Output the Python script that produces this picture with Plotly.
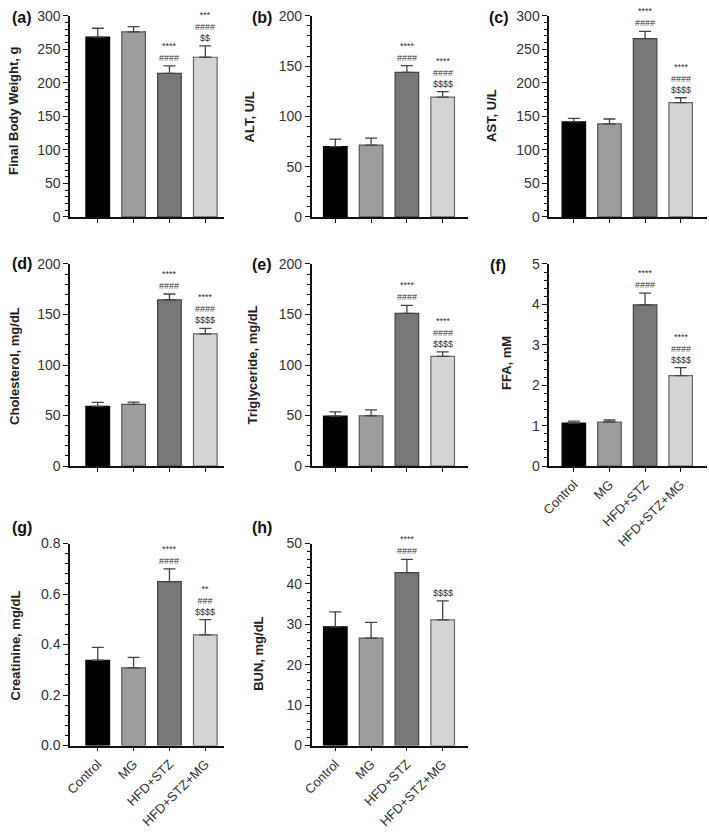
import plotly.graph_objects as go

W, H = 709, 835
FONT = "Liberation Sans, Arial, sans-serif"

groups = ["Control", "MG", "HFD+STZ", "HFD+STZ+MG"]
bar_colors = ["#000000", "#9d9d9d", "#777777", "#d4d4d4"]
edge_colors = ["#000000", "#555555", "#444444", "#666666"]

# values (mean, upper error)
body_weight = [268.4, 276.2, 214.3, 238.2]
body_weight_err = [13.1, 7.8, 11.2, 17.0]
alt = [69.9, 71.5, 143.7, 119.1]
alt_err = [7.4, 6.8, 6.8, 5.5]
ast = [141.7, 138.8, 266.0, 170.5]
ast_err = [5.4, 7.3, 10.7, 7.3]
cholesterol = [59.1, 61.1, 164.5, 130.9]
cholesterol_err = [3.9, 2.2, 5.8, 5.4]
triglyceride = [49.4, 49.8, 151.2, 108.6]
triglyceride_err = [4.2, 5.8, 7.8, 4.5]
ffa = [1.065, 1.09, 3.99, 2.24]
ffa_err = [0.045, 0.05, 0.29, 0.195]
creatinine = [0.338, 0.308, 0.649, 0.438]
creatinine_err = [0.051, 0.041, 0.051, 0.061]
bun = [29.4, 26.6, 42.8, 31.1]
bun_err = [3.7, 3.9, 3.3, 4.7]

sig_a = ["", "", "****<br>####", "***<br>####<br>$$"]
sig_b = ["", "", "****<br>####", "****<br>####<br>$$$$"]
sig_c = ["", "", "****<br>####", "****<br>####<br>$$$$"]
sig_d = ["", "", "****<br>####", "****<br>####<br>$$$$"]
sig_e = ["", "", "****<br>####", "****<br>####<br>$$$$"]
sig_f = ["", "", "****<br>####", "****<br>####<br>$$$$"]
sig_g = ["", "", "****<br>####", "**<br>###<br>$$$$"]
sig_h = ["", "", "****<br>####", "$$$$"]

# pixel layout of the grid
col_px = [(61, 217, -0.77, 3.52), (306, 465, -0.66, 3.72), (547, 707, -0.69, 3.74)]
row_px = [(8, 213), (261, 467), (546, 752)]

panels = [
    dict(tag="(a)", title="Final Body Weight, g", y=body_weight, e=body_weight_err, sig=sig_a,
         ymax=300, dtick=50, minor=10, fmt="", r=0, c=0, tx=4, ty=105, lx=12, ly=10, labels=False),
    dict(tag="(b)", title="ALT, U/L", y=alt, e=alt_err, sig=sig_b,
         ymax=200, dtick=50, minor=10, fmt="", r=0, c=1, tx=243, ty=111, lx=256, ly=10, labels=False),
    dict(tag="(c)", title="AST, U/L", y=ast, e=ast_err, sig=sig_c,
         ymax=300, dtick=50, minor=10, fmt="", r=0, c=2, tx=489, ty=110, lx=496, ly=10, labels=False),
    dict(tag="(d)", title="Cholesterol, mg/dL", y=cholesterol, e=cholesterol_err, sig=sig_d,
         ymax=200, dtick=50, minor=10, fmt="", r=1, c=0, tx=4, ty=365, lx=12, ly=261, labels=False),
    dict(tag="(e)", title="Triglyceride, mg/dL", y=triglyceride, e=triglyceride_err, sig=sig_e,
         ymax=200, dtick=50, minor=10, fmt="", r=1, c=1, tx=245, ty=364, lx=256, ly=262, labels=False),
    dict(tag="(f)", title="FFA, mM", y=ffa, e=ffa_err, sig=sig_f,
         ymax=5, dtick=1, minor=0.2, fmt="", r=1, c=2, tx=503, ty=362, lx=495, ly=263, labels=True),
    dict(tag="(g)", title="Creatinine, mg/dL", y=creatinine, e=creatinine_err, sig=sig_g,
         ymax=0.8, dtick=0.2, minor=0.04, fmt=".1f", r=2, c=0, tx=6, ty=650, lx=12, ly=530, labels=True),
    dict(tag="(h)", title="BUN, mg/dL", y=bun, e=bun_err, sig=sig_h,
         ymax=50, dtick=10, minor=2, fmt="", r=2, c=1, tx=252, ty=658, lx=256, ly=530, labels=True),
]

fig = go.Figure()
layout = dict(
    width=W, height=H, margin=dict(l=0, r=0, t=0, b=0),
    paper_bgcolor="white", plot_bgcolor="white", showlegend=False,
    font=dict(family=FONT, size=13, color="#333333"),
)
annotations = []

for n, p in enumerate(panels, start=1):
    sfx = "" if n == 1 else str(n)
    x0, x1, r0, r1 = col_px[p["c"]]
    y0, y1 = row_px[p["r"]]
    fig.add_trace(go.Bar(
        x=list(range(len(groups))), y=p["y"],
        width=0.66,
        marker=dict(color=bar_colors, line=dict(color=edge_colors, width=1.2)),
        error_y=dict(type="data", symmetric=False, array=p["e"], arrayminus=[0] * 4,
                     color="#444444", thickness=1.3, width=6),
        xaxis="x" + sfx, yaxis="y" + sfx,
    ))
    layout["xaxis" + sfx] = dict(
        domain=[x0 / W, x1 / W], range=[r0, r1], anchor="y" + sfx,
        showline=True, linecolor="#111111", linewidth=1.6,
        ticks="outside", ticklen=4, tickwidth=1.4, tickcolor="#111111",
        tickvals=list(range(len(groups))), ticktext=groups,
        showticklabels=p["labels"], tickangle=-45, showgrid=False, zeroline=False,
        tickfont=dict(family=FONT, size=13, color="#333333"),
    )
    layout["yaxis" + sfx] = dict(
        domain=[1 - y1 / H, 1 - y0 / H], range=[0, p["ymax"]], anchor="x" + sfx,
        showline=True, linecolor="#111111", linewidth=1.6,
        ticks="outside", ticklen=5, tickwidth=1.4, tickcolor="#111111",
        dtick=p["dtick"], tick0=0, tickformat=p["fmt"],
        minor=dict(dtick=p["minor"], ticks="outside", ticklen=3, tickwidth=1, tickcolor="#111111",
                   showgrid=False),
        showgrid=False, zeroline=False,
        tickfont=dict(family=FONT, size=14, color="#333333"),
    )
    # significance marks stacked above each error bar
    for i, s in enumerate(p["sig"]):
        if not s:
            continue
        annotations.append(dict(
            x=i, y=p["y"][i] + p["e"][i], xref="x" + sfx, yref="y" + sfx,
            text=s, showarrow=False, yanchor="bottom", yshift=1,
            font=dict(family=FONT, size=9, color="#333333"),
        ))
    annotations.append(dict(
        x=p["tx"] / W, y=1 - p["ty"] / H, xref="paper", yref="paper",
        text="<b>" + p["title"] + "</b>", textangle=-90, showarrow=False,
        xanchor="center", yanchor="middle",
        font=dict(family=FONT, size=13, color="#222222"),
    ))
    annotations.append(dict(
        x=p["lx"] / W, y=1 - p["ly"] / H, xref="paper", yref="paper",
        text="<b>" + p["tag"] + "</b>", showarrow=False,
        xanchor="center", yanchor="middle",
        font=dict(family=FONT, size=16, color="#111111"),
    ))

layout["annotations"] = annotations
fig.update_layout(**layout)
# the page body has a default margin; drop it so the figure sits at the window's corner
fig.write_html("out.html", config={"displayModeBar": False},
               post_script="document.body.style.margin='0px';")
